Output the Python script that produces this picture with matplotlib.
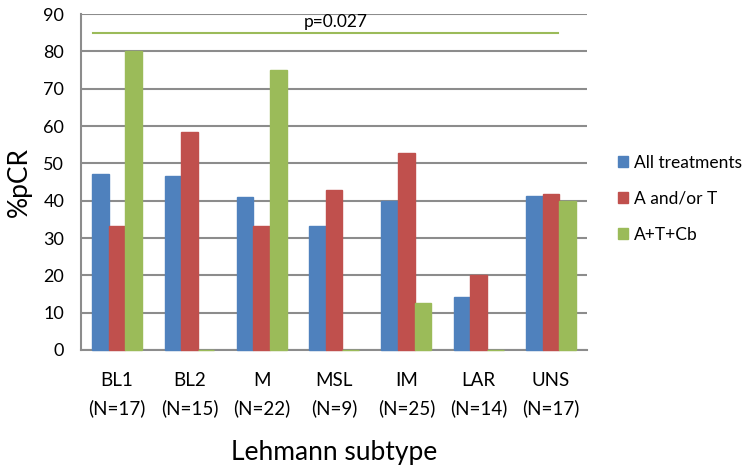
import matplotlib.pyplot as plt
import numpy as np

plt.rcParams["font.family"] = ["Lato", "DejaVu Sans"]

subtypes = ["BL1", "BL2", "M", "MSL", "IM", "LAR", "UNS"]
counts = [17, 15, 22, 9, 25, 14, 17]
series_names = ["All treatments", "A and/or T", "A+T+Cb"]
all_treatments = [47.1, 46.7, 40.9, 33.3, 40.0, 14.3, 41.2]
a_and_or_t = [33.3, 58.3, 33.3, 42.9, 52.9, 20.0, 41.7]
a_t_cb = [80.0, 0.0, 75.0, 0.0, 12.5, 0.0, 40.0]
p_level = 85
p_text = "p=0.027"

COLORS = ["#4F81BD", "#C0504D", "#9BBB59"]
GRID = "#8C8C8C"

fig = plt.figure(figsize=(7.5, 4.71), dpi=100)
ax = fig.add_axes([0.108, 0.257, 0.675, 0.713])

x = np.arange(len(subtypes))
w = 0.23
for i, (vals, name) in enumerate(zip([all_treatments, a_and_or_t, a_t_cb], series_names)):
    ax.bar(x + (i - 1) * w, vals, width=w, color=COLORS[i], edgecolor=COLORS[i],
           linewidth=1.0, label=name, zorder=3, clip_on=False)

# significance line across the groups
ax.plot([x[0] - 0.48 + 0.14, x[-1] + 0.1], [p_level, p_level], color=COLORS[2],
        linewidth=1.5, zorder=4)
ax.text((x[0] + x[-1]) / 2 + 0.02, p_level + 0.8, p_text, ha="center", va="bottom",
        fontsize=12.5)

ax.set_xlim(-0.5, len(subtypes) - 0.5)
ax.set_ylim(0, 90)
ax.set_yticks(range(0, 91, 10))
ax.tick_params(axis="y", length=0, labelsize=13, pad=12)
ax.set_xticks(x)
ax.set_xticklabels([f"{s}\n(N={n})" for s, n in zip(subtypes, counts)], fontsize=13.5,
                   linespacing=1.7)
ax.tick_params(axis="x", length=0, pad=16)
ax.yaxis.grid(True, color=GRID, linewidth=1.5, zorder=0)
ax.set_axisbelow(True)
for side in ["top", "right"]:
    ax.spines[side].set_visible(False)
for side in ["left", "bottom"]:
    ax.spines[side].set_color(GRID)
    ax.spines[side].set_linewidth(1.5)

ax.set_ylabel("%pCR", fontsize=19, labelpad=8)
ax.set_xlabel("Lehmann subtype", fontsize=19, labelpad=16)

ax.legend(loc="center left", bbox_to_anchor=(1.03, 0.45), frameon=False, fontsize=12.5,
          handlelength=0.55, handleheight=0.55, handletextpad=0.35, labelspacing=1.15)

fig.savefig("out.png", dpi=100)
